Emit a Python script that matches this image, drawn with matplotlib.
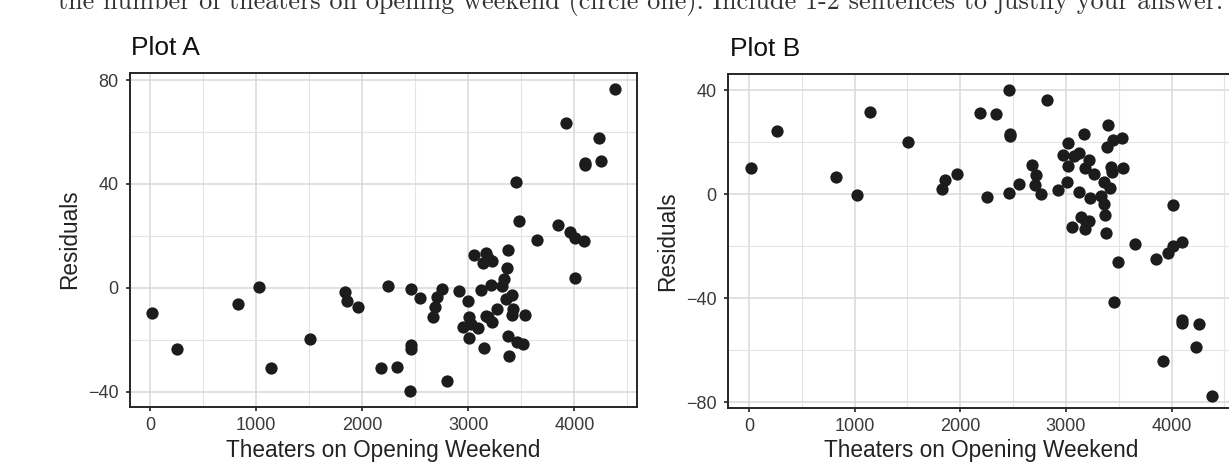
import matplotlib
matplotlib.use("Agg")
import matplotlib.pyplot as plt
from matplotlib.ticker import MultipleLocator

# ---------------- data ----------------
theaters_a = [16, 255, 825, 1026, 1142, 1507, 1835, 1854, 1958, 2178, 2247, 2323,
              2458, 2458, 2462, 2448, 2546, 2662, 2685, 2700, 2747, 2801, 2908, 2952,
              2999, 3005, 3005, 3028, 3094, 3053, 3119, 3134, 3150, 3166, 3166, 3188,
              3210, 3220, 3220, 3188, 3267, 3320, 3336, 3361, 3352, 3374, 3374, 3386,
              3408, 3424, 3408, 3455, 3518, 3531, 3449, 3478, 3644, 3849, 3925, 3959,
              4006, 4091, 4006, 4101, 4103, 4233, 4255, 4378]
residuals_a = [-9.6, -23.6, -6.3, 0.5, -30.9, -19.7, -1.7, -5.1, -7.4, -30.9, 0.9, -30.4,
               -0.4, -22.1, -23.4, -39.7, -3.8, -11.0, -7.4, -3.3, -0.4, -35.9, -1.3, -15.1,
               -4.9, -11.0, -19.3, -13.8, -15.5, 12.7, -0.8, 9.6, -23.1, 13.4, -10.6, 11.4,
               1.2, -13.2, 10.2, -11.2, -8.1, 0.9, 3.5, 7.7, -4.2, 14.7, -18.3, -26.3,
               -2.6, -8.1, -10.4, -20.8, -21.5, -10.4, 40.8, 25.7, 18.5, 24.3, 63.3, 21.7,
               19.4, 18.0, 3.8, 48.2, 47.4, 57.8, 48.9, 76.7]

theaters_b = [19, 262, 821, 1026, 1146, 1509, 1831, 1856, 1964, 2188, 2257, 2339,
              2463, 2472, 2468, 2463, 2557, 2677, 2721, 2709, 2763, 2816, 2920, 2968,
              3015, 3015, 3009, 3056, 3078, 3119, 3125, 3166, 3141, 3179, 3189, 3220,
              3182, 3214, 3226, 3267, 3331, 3356, 3371, 3362, 3378, 3400, 3384, 3425,
              3419, 3441, 3526, 3542, 3434, 3489, 3457, 3653, 3852, 3962, 4009, 4098,
              4009, 4098, 4100, 4256, 4231, 3921, 4379]
residuals_b = [10.2, 24.4, 6.6, -0.3, 31.5, 20.0, 1.9, 5.5, 7.6, 31.1, -1.0, 30.7,
               40.1, 23.1, 22.3, 0.4, 4.0, 11.1, 7.2, 3.4, 0.1, 36.1, 1.4, 15.0,
               19.5, 10.7, 4.8, -12.8, 14.6, 15.9, 0.8, 23.1, -8.9, -13.4, -10.8, -10.5,
               10.2, 13.0, -1.4, 7.9, -0.9, -3.7, -7.9, 4.6, -15.1, 26.5, 18.2, 10.5,
               2.5, 20.8, 21.4, 10.2, 8.5, -26.3, -41.4, -19.1, -24.8, -22.5, -19.9, -18.5,
               -4.1, -48.3, -49.5, -49.8, -58.8, -64.1, -77.7]

titles = ["Plot A", "Plot B"]
x_label = "Theaters on Opening Weekend"
y_label = "Residuals"
header = "the number of theaters on opening weekend (circle one). Include 1-2 sentences to justify your answer."

# ---------------- layout ----------------
W, H = 1229, 467
fig = plt.figure(figsize=(W / 100, H / 100), dpi=100)
fig.patch.set_facecolor("white")

SANS = ["Liberation Sans", "DejaVu Sans"]


def fx(x):
    return x / W


def fy(y):
    return 1 - y / H


def axes_px(l, t, r, b):
    return fig.add_axes([l / W, 1 - b / H, (r - l) / W, (b - t) / H])


def style(ax, xlim, ylim, ystep):
    ax.set_xlim(*xlim)
    ax.set_ylim(*ylim)
    ax.xaxis.set_major_locator(MultipleLocator(1000))
    ax.xaxis.set_minor_locator(MultipleLocator(500))
    ax.yaxis.set_major_locator(MultipleLocator(ystep))
    ax.yaxis.set_minor_locator(MultipleLocator(ystep / 2))
    ax.set_axisbelow(True)
    ax.grid(which="major", color="#D9D9D9", lw=1.1)
    ax.grid(which="minor", color="#E4E4E4", lw=0.8)
    ax.tick_params(which="minor", length=0)
    ax.tick_params(which="major", length=3.2, width=1.3, color="#333333",
                   labelsize=13, labelcolor="#3a3a3a", pad=4)
    for lab in ax.get_xticklabels() + ax.get_yticklabels():
        lab.set_family(SANS)
    for sp in ax.spines.values():
        sp.set_color("#262626")
        sp.set_linewidth(1.4)


axA = axes_px(130, 73, 637, 407)
axB = axes_px(728, 74, 1235, 408)

axA.scatter(theaters_a, residuals_a, s=78, color="#1c1c1c", linewidths=0, zorder=3)
axB.scatter(theaters_b, residuals_b, s=78, color="#1c1c1c", linewidths=0, zorder=3)

style(axA, (-190, 4590), (-45.8, 82.7), 40)
style(axB, (-199, 4600), (-82.3, 46.2), 40)
axA.tick_params(axis="y", pad=5)
axB.tick_params(axis="y", pad=5)

# titles
fig.text(fx(131), fy(55), titles[0], fontsize=19, family=SANS, color="#111111", va="baseline", ha="left")
fig.text(fx(730), fy(56), titles[1], fontsize=19, family=SANS, color="#111111", va="baseline", ha="left")

# axis titles
for cx in (383.5, 981):
    fig.text(fx(cx), fy(450), x_label, fontsize=16.3, family=SANS, color="#222222", ha="center", va="center")
fig.text(fx(70), fy(239), y_label, fontsize=16.3, family=SANS, color="#222222", rotation=90, ha="center", va="center")
fig.text(fx(668), fy(241), y_label, fontsize=16.3, family=SANS, color="#222222", rotation=90, ha="center", va="center")

# partially visible header line of the page (cut at the top)
t = fig.text(fx(58), fy(9), header, fontsize=18, family=["cmr10", "DejaVu Serif"],
             color="#333333", ha="left", va="baseline")
fig.canvas.draw()
w = t.get_window_extent(fig.canvas.get_renderer()).width
t.set_fontsize(18 * 1167 / w)

fig.savefig("out.png", dpi=100)
